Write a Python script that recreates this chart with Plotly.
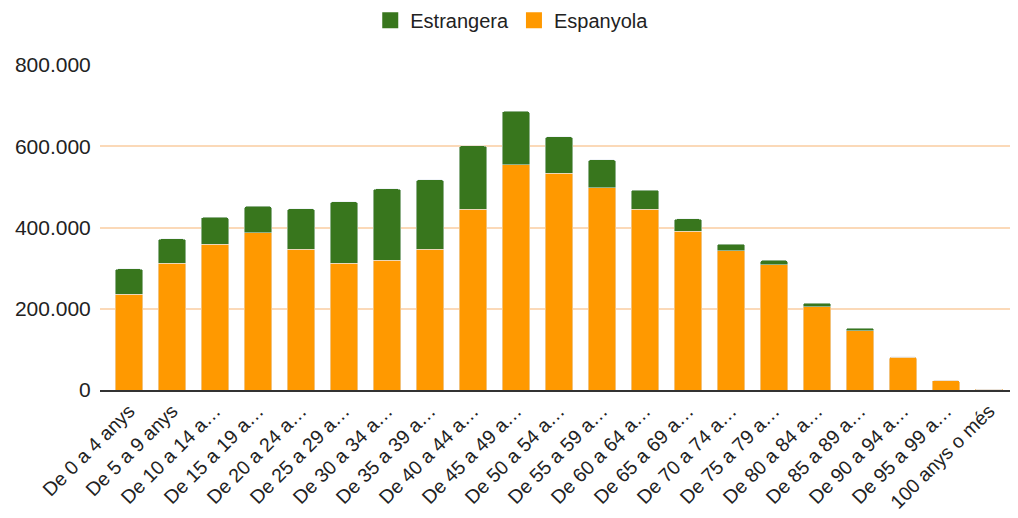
import plotly.graph_objects as go

categories = ["De 0 a 4 anys", "De 5 a 9 anys", "De 10 a 14 a…", "De 15 a 19 a…",
              "De 20 a 24 a…", "De 25 a 29 a…", "De 30 a 34 a…", "De 35 a 39 a…",
              "De 40 a 44 a…", "De 45 a 49 a…", "De 50 a 54 a…", "De 55 a 59 a…",
              "De 60 a 64 a…", "De 65 a 69 a…", "De 70 a 74 a…", "De 75 a 79 a…",
              "De 80 a 84 a…", "De 85 a 89 a…", "De 90 a 94 a…", "De 95 a 99 a…",
              "100 anys o més"]
espanyola = [236000, 312000, 359000, 387000, 347000, 312000, 320000, 347000,
             445000, 555000, 533000, 498000, 445000, 391000, 343000, 308000,
             205000, 146000, 81000, 23500, 1800]
total = [298000, 372000, 425000, 452000, 446000, 464000, 495000, 518000,
         601000, 686000, 624000, 567000, 492000, 421000, 359000, 319000,
         214000, 152500, 82000, 24000, 1900]
estrangera = [t - e for t, e in zip(total, espanyola)]

GREEN = "#38761d"
ORANGE = "#ff9900"

fig = go.Figure()
fig.add_trace(go.Bar(x=categories, y=espanyola, name="Espanyola", marker_color=ORANGE,
                     showlegend=False))
fig.add_trace(go.Bar(x=categories, y=estrangera, name="Estrangera", marker_color=GREEN,
                     showlegend=False))
# legend proxies with larger square symbols
fig.add_trace(go.Scatter(x=[None], y=[None], mode="markers", name="Estrangera",
                         marker=dict(symbol="square", size=20, color=GREEN)))
fig.add_trace(go.Scatter(x=[None], y=[None], mode="markers", name="Espanyola",
                         marker=dict(symbol="square", size=20, color=ORANGE)))

fig.update_layout(
    width=1018, height=518,
    barmode="stack", bargap=0.35, barcornerradius=3,
    separators=",.",
    plot_bgcolor="white", paper_bgcolor="white",
    font=dict(family="Liberation Sans, Arial, sans-serif", color="#222222"),
    margin=dict(l=92, r=11, t=57, b=136, autoexpand=False),
    legend=dict(orientation="h", x=0.45, xanchor="center", y=1.138, yanchor="middle",
                traceorder="normal", font=dict(size=20), itemwidth=30),
    xaxis=dict(tickangle=-45, tickfont=dict(size=19.5), showline=True,
               linecolor="#333333", linewidth=2, showgrid=False,
               range=[-0.674, 20.605]),
    yaxis=dict(range=[0, 800000], dtick=200000, tickformat=",d",
               tickfont=dict(size=21), gridcolor="#fbd9b8", gridwidth=1.5,
               zeroline=False, ticklen=4, ticks="outside", tickcolor="white"),
)
fig.write_html("out.html")
